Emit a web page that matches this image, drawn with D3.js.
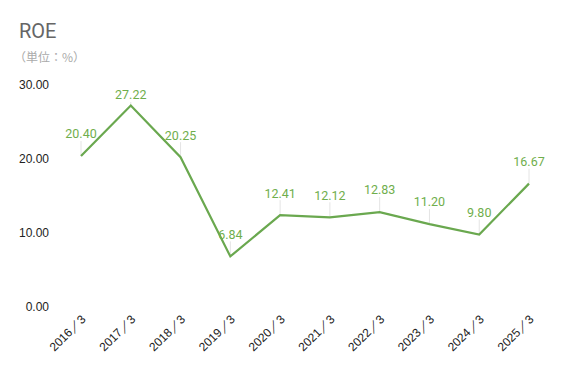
<!DOCTYPE html>
<html>
<head>
<meta charset="utf-8">
<script src="https://cdn.jsdelivr.net/npm/d3@7"></script>
<style>
  body { margin: 0; background: #fff; }
  svg { display: block; }
</style>
</head>
<body>
<div id="chart"></div>
<script>
// data
var periods = ["2016／3", "2017／3", "2018／3", "2019／3", "2020／3", "2021／3", "2022／3", "2023／3", "2024／3", "2025／3"];
var roe = [20.40, 27.22, 20.25, 6.84, 12.41, 12.12, 12.83, 11.20, 9.80, 16.67];
var yTicks = [0, 10, 20, 30];

var W = 573, H = 371;
var margin = {top: 85, right: 44, bottom: 64, left: 56};
var width = W - margin.left - margin.right,
    height = H - margin.top - margin.bottom;

var svg = d3.select("#chart").append("svg")
  .attr("width", W)
  .attr("height", H);

// title
svg.append("text")
  .attr("x", 19).attr("y", 38)
  .style("font-family", "Roboto, 'Liberation Sans', sans-serif")
  .style("font-size", "20px")
  .style("fill", "#666")
  .text("ROE");

svg.append("text")
  .attr("x", 14).attr("y", 62)
  .style("font-family", "'Noto Sans CJK JP', sans-serif")
  .style("font-size", "12px")
  .style("fill", "#aaa")
  .text("（単位：%）");

var g = svg.append("g")
  .attr("transform", "translate(" + margin.left + "," + margin.top + ")");

var x = d3.scalePoint()
  .domain(periods)
  .range([25, 473]);

var y = d3.scaleLinear()
  .domain([0, 30])
  .range([222, 0]);

// y axis labels (no line, no ticks)
var yAxis = g.append("g")
  .call(d3.axisLeft(y).tickValues(yTicks).tickFormat(d3.format(".2f")).tickSize(0).tickPadding(7));
yAxis.select(".domain").remove();
yAxis.selectAll("text")
  .style("font-family", "'Liberation Sans', Arial, sans-serif")
  .style("font-size", "12px")
  .style("fill", "#222");

// x axis labels
var xAxis = g.append("g")
  .attr("transform", "translate(0," + 222 + ")")
  .call(d3.axisBottom(x).tickSize(0).tickPadding(0));
xAxis.select(".domain").remove();
xAxis.selectAll("text")
  .style("font-family", "'Liberation Sans', Arial, sans-serif")
  .style("font-size", "12px")
  .style("fill", "#222")
  .style("text-anchor", "end")
  .attr("dy", null)
  .attr("y", 0)
  .attr("transform", "translate(5,13) rotate(-45)");

var rows = periods.map(function(p, i) { return {p: p, v: roe[i]}; });

function labelY(d) {
  return Math.max(y(d.v) - 22, y(30) + 10);
}

// leader lines
g.selectAll(".leader")
  .data(rows).enter()
  .append("line")
  .attr("class", "leader")
  .attr("x1", function(d) { return x(d.p); })
  .attr("x2", function(d) { return x(d.p); })
  .attr("y1", function(d) { return labelY(d) + 7; })
  .attr("y2", function(d) { return y(d.v); })
  .style("stroke", "#e4e4e4")
  .style("stroke-width", 1);

// line
var line = d3.line()
  .x(function(d) { return x(d.p); })
  .y(function(d) { return y(d.v); });

g.append("path")
  .datum(rows)
  .attr("d", line)
  .style("fill", "none")
  .style("stroke", "#6aa84f")
  .style("stroke-width", 2.2)
  .style("stroke-linejoin", "miter");

// value labels
g.selectAll(".val")
  .data(rows).enter()
  .append("text")
  .attr("class", "val")
  .attr("x", function(d) { return x(d.p); })
  .attr("y", function(d) { return labelY(d); })
  .attr("dy", "0.35em")
  .attr("text-anchor", "middle")
  .style("font-family", "Roboto, sans-serif")
  .style("font-size", "12.5px")
  .style("fill", "#6fae4c")
  .text(function(d) { return d.v.toFixed(2); });
</script>
</body>
</html>
